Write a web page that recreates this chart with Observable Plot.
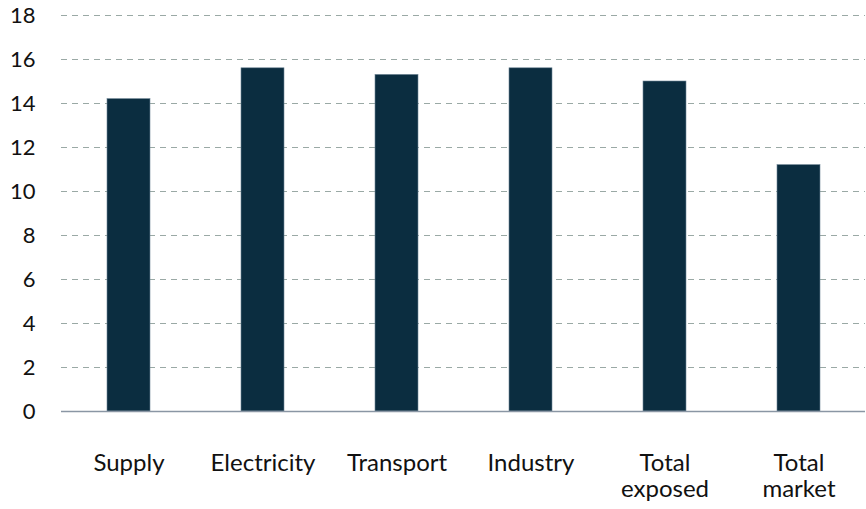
<!DOCTYPE html>
<html>
<head>
<meta charset="utf-8">
<script src="https://cdn.jsdelivr.net/npm/d3@7"></script>
<script src="https://cdn.jsdelivr.net/npm/@observablehq/plot@0.6"></script>
<style>
  html, body { margin: 0; padding: 0; background: #fff; }
  #chart svg { display: block; }
</style>
</head>
<body>
<div id="chart"></div>
<script>
const categories = ["Supply", "Electricity", "Transport", "Industry", "Total exposed", "Total market"];
const categoryLabels = ["Supply", "Electricity", "Transport", "Industry", "Total\nexposed", "Total\nmarket"];
const values = [14.2, 15.6, 15.3, 15.6, 15.0, 11.2];
const yTicks = [0, 2, 4, 6, 8, 10, 12, 14, 16, 18];

const data = categories.map((c, i) => ({category: c, value: values[i]}));
const labelOf = new Map(categories.map((c, i) => [c, categoryLabels[i]]));

const chart = Plot.plot({
  width: 866,
  height: 509,
  marginLeft: 61,
  marginRight: 1,
  marginTop: 15,
  marginBottom: 98,
  style: {fontFamily: "Lato, 'Open Sans', sans-serif", color: "#111", background: "#fff"},
  x: {domain: categories, paddingInner: 0.68, paddingOuter: 0.34, align: 0.5},
  y: {domain: [0, 18], ticks: yTicks},
  marks: [
    Plot.ruleY(yTicks.filter(d => d > 0), {stroke: "#9aa9a5", strokeWidth: 1.2, strokeDasharray: "6,5"}),
    Plot.barY(data, {x: "category", y: "value", fill: "#0b2d40", stroke: "#6f8596", strokeWidth: 0.6}),
    Plot.ruleY([0], {stroke: "#8a96a4", strokeWidth: 1.5}),
    Plot.axisY({ticks: yTicks, tickSize: 0, tickPadding: 26, fontSize: 22, label: null, fill: "#111"}),
    Plot.axisX({tickSize: 0, tickPadding: 40, fontSize: 24, label: null, lineHeight: 1.12, fill: "#111",
      tickFormat: d => labelOf.get(d)})
  ]
});
document.getElementById("chart").appendChild(chart);
</script>
</body>
</html>
